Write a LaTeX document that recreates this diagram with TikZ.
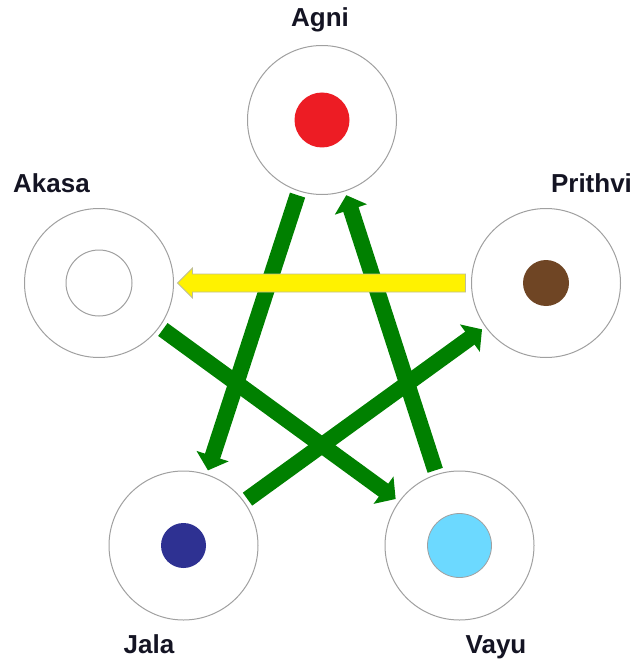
\documentclass[tikz,border=0pt]{standalone}
\usepackage{fontspec}
\setmainfont{Liberation Sans}
\usetikzlibrary{arrows.meta,calc}
\definecolor{ringgray}{RGB}{160,160,160}
\definecolor{arrowgreen}{RGB}{0,128,0}
\definecolor{agnired}{RGB}{237,28,36}
\definecolor{earthbrown}{RGB}{111,69,36}
\definecolor{waterblue}{RGB}{46,49,146}
\definecolor{airblue}{RGB}{108,217,255}
\definecolor{labelink}{RGB}{20,20,35}
\definecolor{yellowedge}{RGB}{190,190,150}
\tikzset{
  ring/.style={circle,draw=ringgray,line width=1pt,fill=white,minimum size=149pt,inner sep=0pt,outer sep=0pt},
  dot/.style={circle,inner sep=0pt,outer sep=0pt,minimum size=#1},
  lbl/.style={anchor=base,text=labelink,font=\fontsize{26}{30}\selectfont\bfseries},
  flow/.style={draw=arrowgreen,line width=16pt,shorten <=4.5pt,shorten >=4.5pt,
    -{Triangle[width=33pt,length=15pt]}},
  yel/.style={fill=yellow,draw=yellowedge,line width=0.8pt,line join=miter}
}
\begin{document}
\begin{tikzpicture}[x=1pt,y=-1pt]
\useasboundingbox (0,0) rectangle (634,663);
% rings
\node[ring] (agni) at (322,120) {};
\node[ring] (akasa) at (99,283) {};
\node[ring] (prithvi) at (546,283) {};
\node[ring] (jala) at (183.5,545.5) {};
\node[ring] (vayu) at (459.5,545.5) {};
% inner dots
\node[dot=55pt,fill=agnired] (agnidot) at (agni) {};
\node[dot=66pt,draw=ringgray,line width=1pt,fill=white] (akasadot) at (akasa) {};
\node[dot=46pt,fill=earthbrown] (prithvidot) at (prithvi) {};
\node[dot=45pt,fill=waterblue] (jaladot) at (jala) {};
\node[dot=64pt,draw=ringgray,line width=0.8pt,fill=airblue] (vayudot) at (vayu) {};
% labels
\node[lbl] (agnilbl) at (320,27) {Agni};
\node[lbl] (akasalbl) at (51.5,192) {Akasa};
\node[lbl] (prithvilbl) at (591.5,192) {Prithvi};
\node[lbl] (jalalbl) at (149,653) {Jala};
\node[lbl] (vayulbl) at (496,653) {Vayu};
% green arrows
\draw[flow] (akasa) -- (vayu);
\draw[flow] (agni) -- (jala);
\draw[flow] (vayu) -- (agni);
\draw[flow] (jala) -- (prithvi);
% yellow arrow
\draw[yel] ($(prithvi.west)+(-6,-9)$) -- ($(akasa.east)+(19,-9)$)
  -- ($(akasa.east)+(19,-15)$) -- ($(akasa.east)+(4,0)$)
  -- ($(akasa.east)+(19,15)$) -- ($(akasa.east)+(19,9)$)
  -- ($(prithvi.west)+(-6,9)$) -- cycle;
\end{tikzpicture}
\end{document}
